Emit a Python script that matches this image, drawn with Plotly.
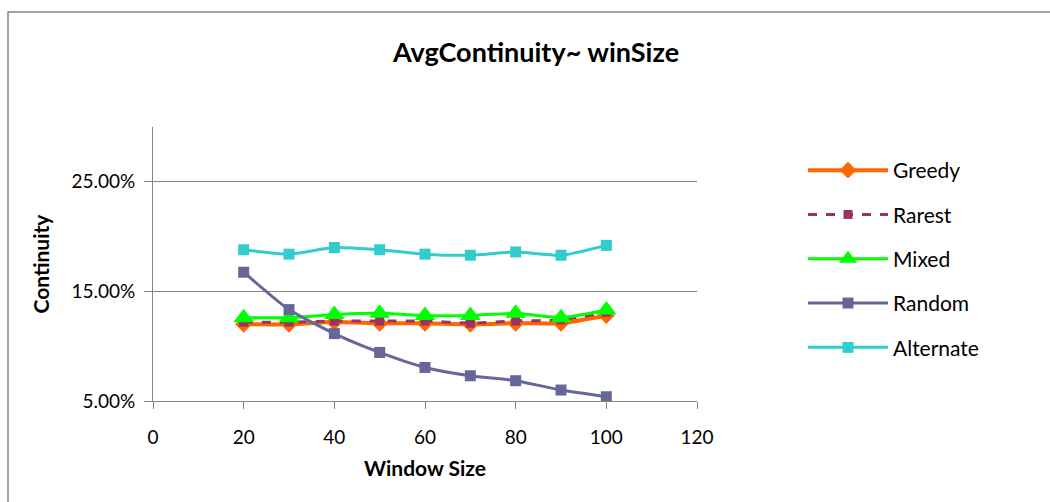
import plotly.graph_objects as go

window_size = [20, 30, 40, 50, 60, 70, 80, 90, 100]
greedy = [0.120, 0.120, 0.122, 0.121, 0.121, 0.120, 0.121, 0.121, 0.128]
rarest = [0.122, 0.122, 0.123, 0.123, 0.123, 0.121, 0.123, 0.124, 0.131]
mixed = [0.126, 0.126, 0.129, 0.130, 0.128, 0.128, 0.130, 0.126, 0.133]
random_ = [0.1675, 0.1334, 0.1115, 0.0943, 0.0806, 0.0730, 0.0685, 0.0600, 0.0539]
alternate = [0.188, 0.184, 0.190, 0.188, 0.184, 0.183, 0.186, 0.183, 0.192]

x_ticks = [0, 20, 40, 60, 80, 100, 120]
y_ticks = [0.05, 0.15, 0.25]

FONT = "Lato"

fig = go.Figure()

series = [
    ("Greedy", greedy, "#FF6600", "solid", 4, "diamond", 13),
    ("Rarest", rarest, "#993366", "dash", 3, "square", 9),
    ("Mixed", mixed, "#00FF00", "solid", 3, "triangle-up", 18),
    ("Random", random_, "#666699", "solid", 3, "square", 11),
    ("Alternate", alternate, "#33CCCC", "solid", 3, "square", 11),
]
for i, (name, vals, color, dash, w, sym, size) in enumerate(series):
    fig.add_trace(go.Scatter(
        x=window_size, y=vals, name=name, mode="lines+markers",
        line=dict(color=color, width=w, dash=dash, shape="spline", smoothing=0.6),
        marker=dict(symbol=sym, size=size, color=color),
        legendgroup=str(i),
    ))

L, R, T, B = 153, 353, 127, 101
W, H = 1050, 502
pw, ph = W - L - R, H - T - B

fig.update_layout(
    width=W, height=H,
    margin=dict(l=L, r=R, t=T, b=B),
    paper_bgcolor="white", plot_bgcolor="white",
    font=dict(family=FONT, size=19, color="#000000"),
    title=dict(text="<b>AvgContinuity~ winSize</b>", x=(536 - L) / pw, xref="paper",
               xanchor="center", y=1 - 53 / H, yanchor="middle",
               font=dict(family=FONT, size=27)),
    xaxis=dict(range=[0, 120], tickvals=x_ticks, ticks="outside", ticklen=7,
               tickcolor="#868686", showline=True, linecolor="#868686", linewidth=1,
               showgrid=False, zeroline=False, ticklabelstandoff=12,
               title=dict(text="<b>Window Size</b>", font=dict(family=FONT, size=21), standoff=14),
               tickfont=dict(family=FONT, size=19)),
    yaxis=dict(range=[0.05, 0.30], tickvals=y_ticks, tickformat=".2%", ticks="outside",
               ticklen=8, tickcolor="#868686", showline=True, linecolor="#868686",
               linewidth=1, showgrid=True, gridcolor="#868686", gridwidth=1,
               zeroline=False, ticklabelstandoff=5,
               title=dict(text="<b>Continuity</b>", font=dict(family=FONT, size=21), standoff=16),
               tickfont=dict(family=FONT, size=19)),
    legend=dict(x=(803 - L) / pw, y=1 - (150 - T) / ph, xanchor="left", yanchor="top",
                font=dict(family=FONT, size=21), tracegroupgap=14, itemwidth=80,
                bgcolor="rgba(0,0,0,0)"),
    shapes=[dict(type="rect", xref="paper", yref="paper",
                 x0=(8 - L) / pw, x1=(1200 - L) / pw,
                 y0=-(700 - (H - B)) / ph, y1=1 + (T - 12) / ph,
                 line=dict(color="#868686", width=1.5), layer="below")],
)

fig.write_html("out.html")
